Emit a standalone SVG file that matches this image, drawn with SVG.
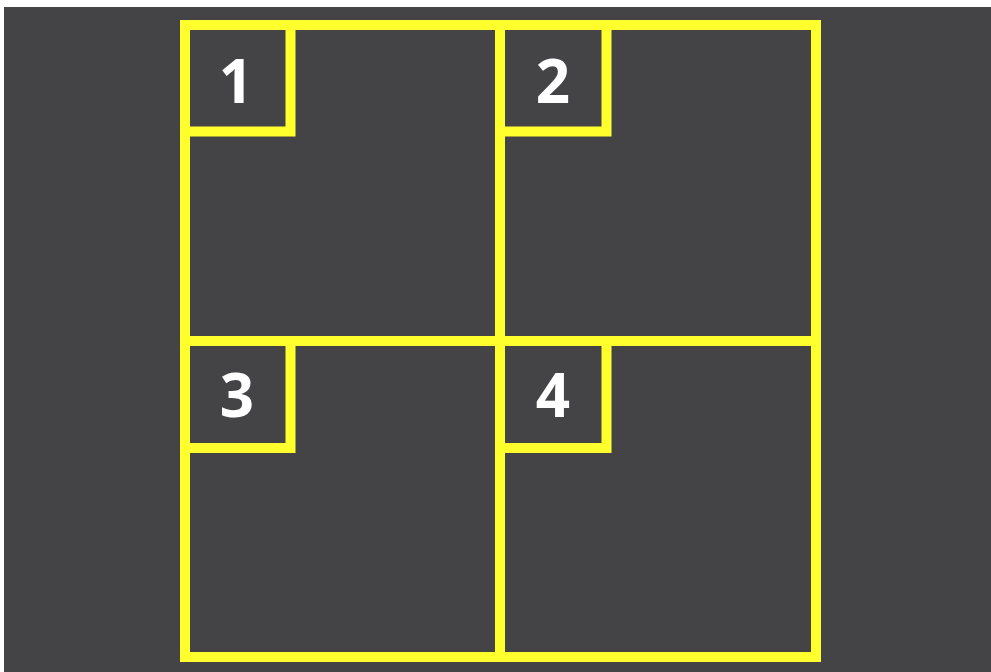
<svg xmlns="http://www.w3.org/2000/svg" width="991" height="672" viewBox="0 0 991 672">
<style>
.ln{fill:none;stroke:#ffff2e;stroke-width:10;stroke-linecap:square}
.num{font-family:"Open Sans","Liberation Sans",sans-serif;font-weight:bold;font-size:60px;fill:#ffffff;text-anchor:middle}
</style>
<rect x="0" y="0" width="991" height="672" fill="#ffffff"/>
<rect x="4" y="7" width="987" height="665" fill="#444446"/>
<g id="frame">
<rect class="ln" x="185" y="25" width="631" height="632"/>
<line class="ln" x1="500" y1="25" x2="500" y2="657"/>
<line class="ln" x1="185" y1="341" x2="816" y2="341"/>
</g>
<g id="box1">
<path class="ln" d="M185,131.5 H290.5 V25"/>
<text class="num" x="236" y="103">1</text>
</g>
<g id="box2">
<path class="ln" d="M500,131.5 H606.5 V25"/>
<text class="num" x="553" y="103">2</text>
</g>
<g id="box3">
<path class="ln" d="M185,448 H290.5 V341"/>
<text class="num" x="237" y="417">3</text>
</g>
<g id="box4">
<path class="ln" d="M500,448 H606.5 V341"/>
<text class="num" x="553" y="417">4</text>
</g>
</svg>
